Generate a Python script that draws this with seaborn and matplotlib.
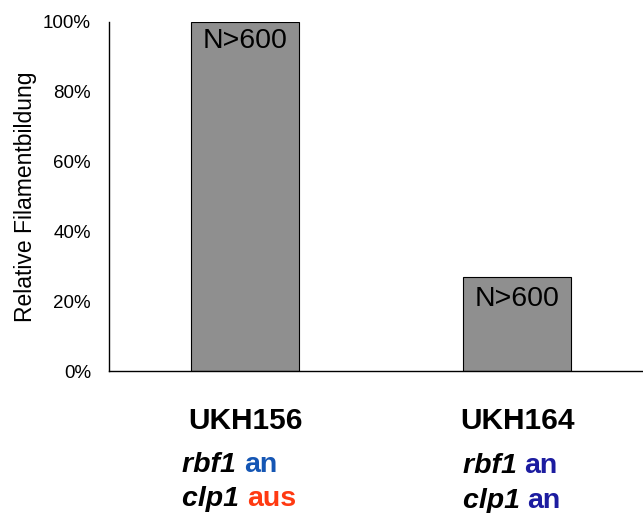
import matplotlib
matplotlib.use('Agg')
import matplotlib.pyplot as plt
import matplotlib.transforms as mtransforms
from matplotlib.ticker import PercentFormatter
import pandas as pd
import seaborn as sns

# Data
strains = ['UKH156', 'UKH164']
filament = [1.00, 0.27]
n_labels = ['N>600', 'N>600']
genes = ['rbf1', 'clp1']
states = [['an', 'aus'], ['an', 'an']]
state_colors = [['#1556b4', '#ff3a12'], ['#1c1ca0', '#1c1ca0']]

df = pd.DataFrame({'strain': strains, 'value': filament})

sns.set_style('white')
plt.rcParams['font.family'] = ['Liberation Sans', 'DejaVu Sans']
for k in ['text.color', 'axes.labelcolor', 'xtick.color', 'ytick.color']:
    plt.rcParams[k] = 'black'

fig = plt.figure(figsize=(6.43, 5.13), dpi=100)
W, H = 643, 513
ax = fig.add_axes([109 / W, 1 - 371 / H, 544 / W, 349 / H])

sns.barplot(data=df, x='strain', y='value', ax=ax, color='#8f8f8f',
            edgecolor='black', linewidth=0.8, width=0.4, saturation=1)

ax.set_xlim(-0.5, 1.5)
ax.set_ylim(0, 1.0)
ax.set_yticks([0, 0.2, 0.4, 0.6, 0.8, 1.0])
ax.yaxis.set_major_formatter(PercentFormatter(1.0, decimals=0))
ax.tick_params(axis='y', length=0, pad=13, labelsize=13.5)
ax.tick_params(axis='x', length=0, pad=26)
for lab in ax.get_xticklabels():
    lab.set_fontsize(21.5)
    lab.set_fontweight('bold')
ax.set_xlabel('')
ax.set_ylabel('Relative Filamentbildung', fontsize=16.5)
ax.yaxis.set_label_coords(-0.132, 0.5)

for s in ['top', 'right']:
    ax.spines[s].set_visible(False)
for s in ['left', 'bottom']:
    ax.spines[s].set_color('black')
    ax.spines[s].set_linewidth(1.0)

# N labels inside the bars
label_offsets = [-4, -7]
for i, (v, lab) in enumerate(zip(filament, n_labels)):
    ax.annotate(lab, (i, v), xytext=(0, label_offsets[i]), textcoords='offset points',
                ha='center', va='top', fontsize=20.5)

# genotype lines under the strain names
line_x = [-0.23, 0.80]
line_y = [[472, 506], [473, 508]]
fig.canvas.draw()
renderer = fig.canvas.get_renderer()
for i in range(len(strains)):
    for j, gene in enumerate(genes):
        t = mtransforms.blended_transform_factory(ax.transData, fig.transFigure)
        txt = ax.text(line_x[i], 1 - line_y[i][j] / H, gene + ' ', transform=t,
                      fontsize=20.5, fontweight='bold', fontstyle='italic',
                      va='baseline', ha='left', clip_on=False)
        ex = txt.get_window_extent(renderer)
        t2 = mtransforms.offset_copy(t, fig=fig, x=ex.width, units='dots')
        ax.text(line_x[i], 1 - line_y[i][j] / H, states[i][j], transform=t2,
                fontsize=20.5, fontweight='bold', color=state_colors[i][j],
                va='baseline', ha='left', clip_on=False)

fig.savefig('out.png', dpi=100)
